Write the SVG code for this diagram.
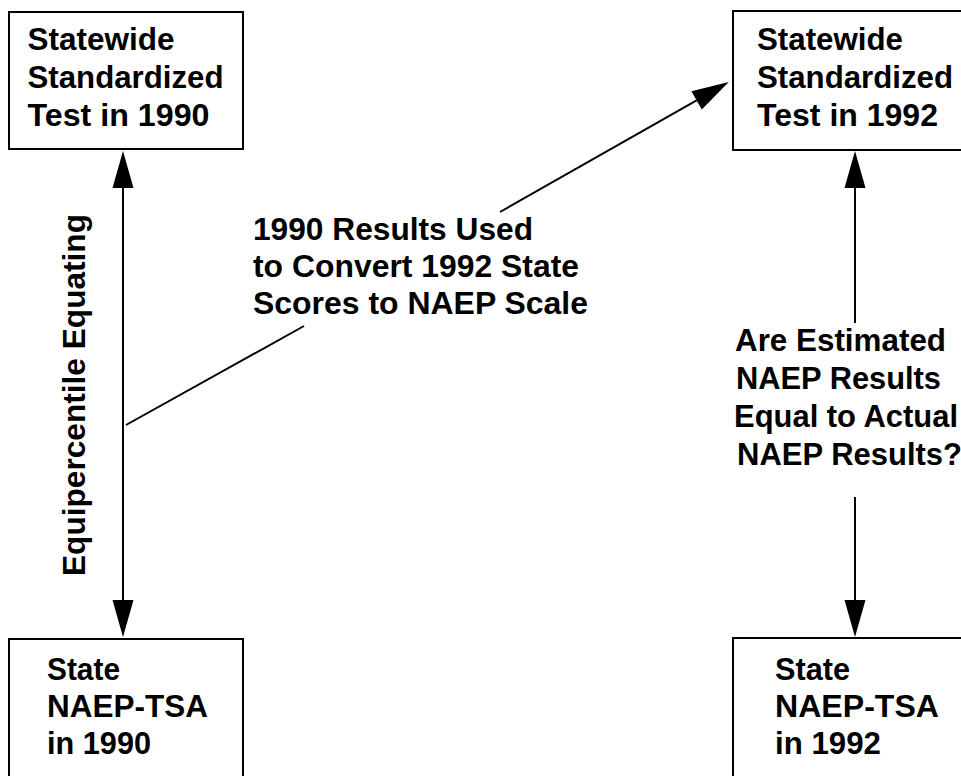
<svg xmlns="http://www.w3.org/2000/svg" width="961" height="776" viewBox="0 0 961 776">
<style>
.box{fill:#fff;stroke:#000;stroke-width:2}
.t{font-family:"Liberation Sans",Arial,Helvetica,sans-serif;font-weight:bold;font-size:30.5px;fill:#000}
.v{font-size:32px}
.c{fill:none;stroke:#000;stroke-width:2}
</style>
<defs>
<marker id="ah" markerUnits="userSpaceOnUse" markerWidth="37" markerHeight="21" viewBox="0 0 37 21" refX="0" refY="10.5" orient="auto-start-reverse" overflow="visible">
<path d="M0,0 L37,10.5 L0,21 Z" fill="#000"/>
</marker>
</defs>
<rect width="961" height="776" fill="#fff"/>
<g id="connectors">
<line class="c" x1="123" y1="188" x2="123" y2="600" marker-start="url(#ah)" marker-end="url(#ah)"/>
<line class="c" x1="126" y1="425" x2="304" y2="326"/>
<line class="c" x1="500" y1="212" x2="696.6" y2="100.3" marker-end="url(#ah)"/>
<line class="c" x1="855" y1="323" x2="855" y2="188" marker-end="url(#ah)"/>
<line class="c" x1="855" y1="497" x2="855" y2="600" marker-end="url(#ah)"/>
</g>
<g id="test1990">
<rect class="box" x="9" y="12" width="234" height="137"/>
<text class="t" x="27.5" y="50" textLength="147" lengthAdjust="spacingAndGlyphs">Statewide</text>
<text class="t" x="27.5" y="88" textLength="196" lengthAdjust="spacingAndGlyphs">Standardized</text>
<text class="t" x="27.5" y="126" textLength="182" lengthAdjust="spacingAndGlyphs">Test in 1990</text>
</g>
<g id="test1992">
<rect class="box" x="733" y="11" width="240" height="139"/>
<text class="t" x="757" y="50" textLength="146" lengthAdjust="spacingAndGlyphs">Statewide</text>
<text class="t" x="757" y="88" textLength="196" lengthAdjust="spacingAndGlyphs">Standardized</text>
<text class="t" x="757" y="126" textLength="181" lengthAdjust="spacingAndGlyphs">Test in 1992</text>
</g>
<g id="naep1990">
<rect class="box" x="9" y="639" width="234" height="150"/>
<text class="t" x="47" y="680" textLength="73" lengthAdjust="spacingAndGlyphs">State</text>
<text class="t" x="47" y="717" textLength="161" lengthAdjust="spacingAndGlyphs">NAEP-TSA</text>
<text class="t" x="47" y="754" textLength="104" lengthAdjust="spacingAndGlyphs">in 1990</text>
</g>
<g id="naep1992">
<rect class="box" x="733" y="638" width="240" height="150"/>
<text class="t" x="775" y="680" textLength="75" lengthAdjust="spacingAndGlyphs">State</text>
<text class="t" x="775" y="717" textLength="164" lengthAdjust="spacingAndGlyphs">NAEP-TSA</text>
<text class="t" x="775" y="754" textLength="106" lengthAdjust="spacingAndGlyphs">in 1992</text>
</g>
<g id="label-equating">
<text class="t v" transform="translate(85,576) rotate(-90)" x="0" y="0" textLength="362" lengthAdjust="spacingAndGlyphs">Equipercentile Equating</text>
</g>
<g id="label-convert">
<text class="t" x="253" y="240" textLength="280" lengthAdjust="spacingAndGlyphs">1990 Results Used</text>
<text class="t" x="253" y="277" textLength="326" lengthAdjust="spacingAndGlyphs">to Convert 1992 State</text>
<text class="t" x="253" y="313.5" textLength="335" lengthAdjust="spacingAndGlyphs">Scores to NAEP Scale</text>
</g>
<g id="label-compare">
<text class="t" x="735" y="351" textLength="211" lengthAdjust="spacingAndGlyphs">Are Estimated</text>
<text class="t" x="736" y="389" textLength="205" lengthAdjust="spacingAndGlyphs">NAEP Results</text>
<text class="t" x="734" y="427" textLength="224" lengthAdjust="spacingAndGlyphs">Equal to Actual</text>
<text class="t" x="737" y="465" textLength="225" lengthAdjust="spacingAndGlyphs">NAEP Results?</text>
</g>
</svg>
